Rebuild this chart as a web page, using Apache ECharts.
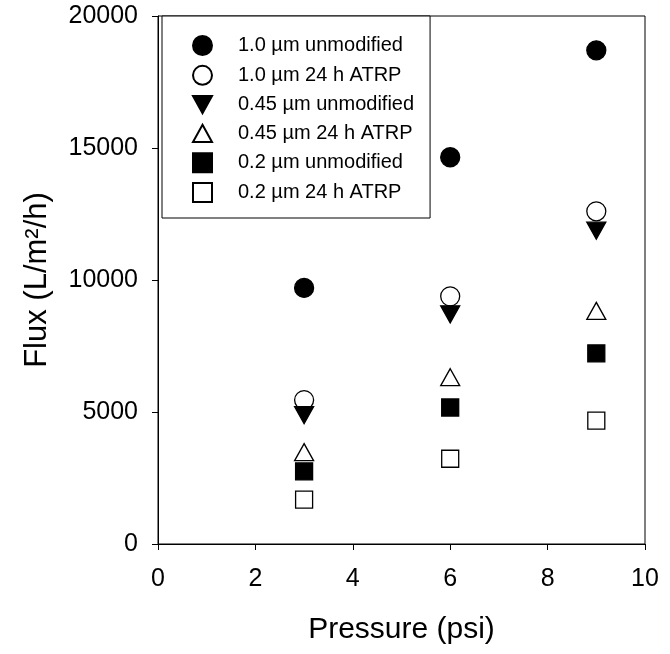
<!DOCTYPE html>
<html>
<head>
<meta charset="utf-8">
<script src="https://cdn.jsdelivr.net/npm/echarts@6/dist/echarts.min.js"></script>
<style>html,body{margin:0;padding:0;background:#fff;}#c{width:670px;height:654px;}</style>
</head>
<body>
<div id="c"></div>
<script>
var pressure = [3, 6, 9];
var seriesNames = ['1.0 µm unmodified', '1.0 µm 24 h ATRP', '0.45 µm unmodified', '0.45 µm 24 h ATRP', '0.2 µm unmodified', '0.2 µm 24 h ATRP'];
var flux_1_0_unmod = [9700, 14650, 18700];
var flux_1_0_atrp = [5450, 9380, 12600];
var flux_045_unmod = [4880, 8700, 11870];
var flux_045_atrp = [3480, 6320, 8830];
var flux_02_unmod = [2750, 5170, 7220];
var flux_02_atrp = [1680, 3230, 4670];
var xTicks = [0, 2, 4, 6, 8, 10];
var yTicks = [0, 5000, 10000, 15000, 20000];

var FONT = 'Liberation Sans, Arial, sans-serif';
var fluxSets = [flux_1_0_unmod, flux_1_0_atrp, flux_045_unmod, flux_045_atrp, flux_02_unmod, flux_02_atrp];
var DOWN = 'path://M0,0 L20,0 L10,18 Z';
var UP = 'path://M10,0 L20,18 L0,18 Z';
var styles = [
  {symbol: 'circle', fill: '#000', size: 19},
  {symbol: 'circle', fill: '#fff', size: 19},
  {symbol: DOWN, fill: '#000', size: [19, 17]},
  {symbol: UP, fill: '#fff', size: [19, 17]},
  {symbol: 'rect', fill: '#000', size: 17},
  {symbol: 'rect', fill: '#fff', size: 17}
];
var series = seriesNames.map(function (name, i) {
  var st = styles[i];
  return {
    name: name,
    type: 'scatter',
    symbol: st.symbol,
    symbolSize: st.size,
    itemStyle: {color: st.fill, borderColor: '#000', borderWidth: 1.3, opacity: 1},
    emphasis: {disabled: true},
    data: pressure.map(function (p, j) { return [p, fluxSets[i][j]]; })
  };
});
var legendData = seriesNames.map(function (name, i) {
  return {name: name, icon: styles[i].symbol};
});

var chart = echarts.init(document.getElementById('c'), null, {renderer: 'canvas'});
chart.setOption({
  animation: false,
  backgroundColor: '#fff',
  grid: {left: 158, right: 25, top: 16, bottom: 110, show: true, borderColor: '#000', borderWidth: 1, backgroundColor: 'transparent'},
  xAxis: {
    type: 'value', min: xTicks[0], max: xTicks[xTicks.length - 1], interval: 2,
    name: 'Pressure (psi)', nameLocation: 'middle', nameGap: 71,
    nameTextStyle: {fontFamily: FONT, fontSize: 30, color: '#000'},
    axisLine: {show: true, onZero: false, lineStyle: {color: '#000', width: 1}},
    axisTick: {show: true, inside: false, length: 6, lineStyle: {color: '#000'}},
    axisLabel: {fontFamily: FONT, fontSize: 25, color: '#000', margin: 23},
    splitLine: {show: false}
  },
  yAxis: {
    type: 'value', min: yTicks[0], max: yTicks[yTicks.length - 1], interval: 5000,
    name: 'Flux (L/m²/h)', nameLocation: 'middle', nameGap: 105, nameRotate: 90,
    nameTextStyle: {fontFamily: FONT, fontSize: 31, color: '#000'},
    axisLine: {show: true, onZero: false, lineStyle: {color: '#000', width: 1}},
    axisTick: {show: true, inside: false, length: 6, lineStyle: {color: '#000'}},
    axisLabel: {fontFamily: FONT, fontSize: 25, color: '#000', margin: 20,
      formatter: function (v) { return String(v); }},
    splitLine: {show: false}
  },
  legend: {
    show: true, orient: 'vertical', left: 162, top: 16,
    padding: [19, 16, 15, 30],
    borderColor: '#000', borderWidth: 1, backgroundColor: '#fff',
    itemWidth: 19, itemHeight: 19, itemGap: 8.8,
    symbolKeepAspect: true,
    selectedMode: false,
    textStyle: {fontFamily: FONT, fontSize: 20, color: '#000', padding: [0, 0, 0, 21]},
    data: legendData
  },
  series: series
});
</script>
</body>
</html>
